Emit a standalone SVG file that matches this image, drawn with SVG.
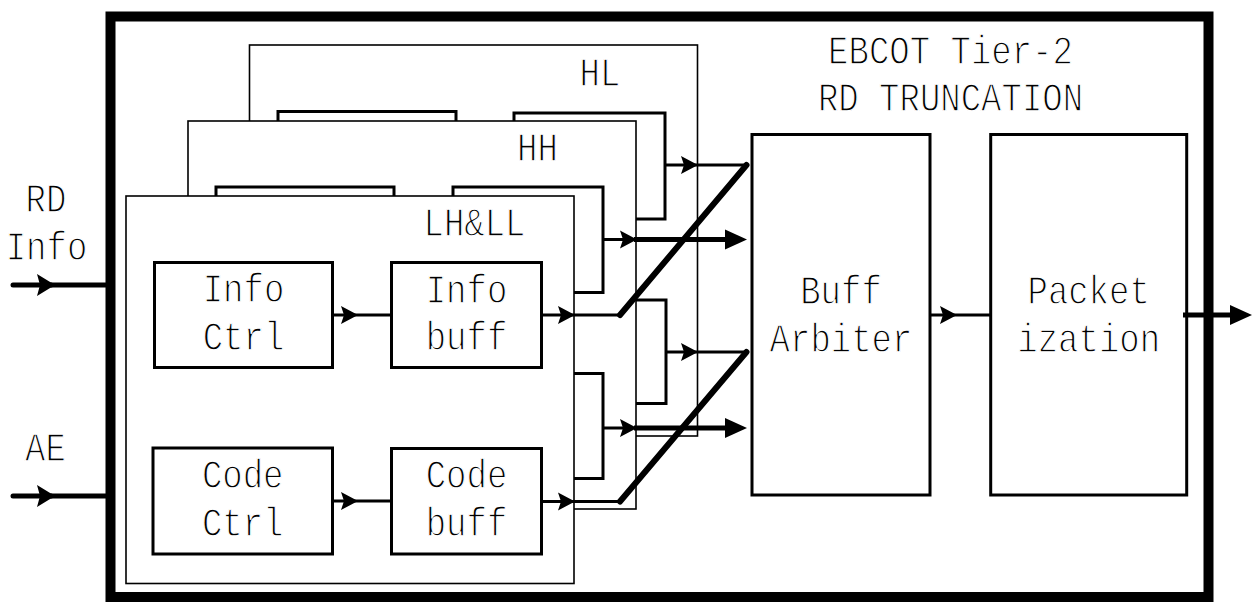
<svg xmlns="http://www.w3.org/2000/svg" width="1256" height="603" viewBox="0 0 1256 603">
<style>
text{font-family:"Liberation Mono","DejaVu Sans Mono",monospace;font-size:34px;fill:#000;stroke:#fff;stroke-width:1.1px;text-anchor:middle}
.layer{fill:#fff;stroke:#000;stroke-width:1.6}
.blk{fill:#fff;stroke:#000;stroke-width:3}
.big{fill:#fff;stroke:#000;stroke-width:3}
.ln{fill:none;stroke:#000;stroke-width:3}
.thk{fill:none;stroke:#000;stroke-width:5}
.diag{fill:none;stroke:#000;stroke-width:6;stroke-linecap:round}
.inp{fill:none;stroke:#000;stroke-width:5}
</style>
<defs>
<marker id="as" viewBox="-18 -10 20 20" refX="-4" refY="0" markerWidth="20" markerHeight="20" markerUnits="userSpaceOnUse" orient="auto" overflow="visible"><path d="M0,0 L-17,-9 L-14,0 L-17,9 Z" fill="#000"/></marker>
<marker id="ai" viewBox="-20 -12 22 24" refX="-4" refY="0" markerWidth="22" markerHeight="24" markerUnits="userSpaceOnUse" orient="auto" overflow="visible"><path d="M0,0 L-18,-11 L-15,0 L-18,11 Z" fill="#000"/></marker>
<marker id="ab" viewBox="-24 -11 26 22" refX="-8" refY="0" markerWidth="26" markerHeight="22" markerUnits="userSpaceOnUse" orient="auto" overflow="visible"><path d="M0,0 L-22,-10 L-22,10 Z" fill="#000"/></marker>
</defs>
<rect width="1256" height="603" fill="#fff"/>

<g id="outer">
<rect x="110.5" y="16.5" width="1098" height="580.5" fill="none" stroke="#000" stroke-width="10"/>
<text transform="matrix(1 0 0 1.17 950.5 64)">EBCOT Tier-2</text>
<text transform="matrix(1 0 0 1.17 950.5 110.7)">RD TRUNCATION</text>
</g>

<g id="labels-in">
<text transform="matrix(1 0 0 1.17 46 211.7)">RD</text>
<text transform="matrix(1 0 0 1.17 46.5 260)">Info</text>
<text transform="matrix(1 0 0 1.17 45.5 460.7)">AE</text>
</g>

<g id="layer-HL">
<rect class="layer" x="249.5" y="45" width="448" height="391"/>
<text transform="matrix(1 0 0 1.17 600 86)">HL</text>
<rect id="hl-info-ctrl" class="blk" x="278" y="111.5" width="178" height="105"/>
<rect id="hl-info-buff" class="blk" x="514" y="113" width="151" height="106"/>
<rect id="hl-code-buff" class="blk" x="514" y="300" width="152" height="103.5"/>
</g>

<g id="layer-HH">
<rect class="layer" x="188" y="121" width="448" height="388"/>
<text transform="matrix(1 0 0 1.17 537.5 161)">HH</text>
<rect id="hh-info-ctrl" class="blk" x="216" y="187" width="178" height="105"/>
<rect id="hh-info-buff" class="blk" x="453" y="187" width="150" height="105.5"/>
<rect id="hh-code-buff" class="blk" x="453" y="373.5" width="150" height="105"/>
</g>

<g id="layer-LHLL">
<rect class="layer" x="126" y="196" width="448" height="387.5"/>
<text transform="matrix(1 0 0 1.17 474.5 236)">LH&amp;LL</text>
<g id="info-ctrl">
<rect class="blk" x="154.5" y="262.5" width="178" height="105"/>
<text transform="matrix(1 0 0 1.17 243.5 302)">Info</text>
<text transform="matrix(1 0 0 1.17 243.5 350)">Ctrl</text>
</g>
<g id="info-buff">
<rect class="blk" x="391.5" y="262.5" width="150" height="105"/>
<text transform="matrix(1 0 0 1.17 466.5 302.5)">Info</text>
<text transform="matrix(1 0 0 1.17 466.5 350)">buff</text>
</g>
<g id="code-ctrl">
<rect class="blk" x="153" y="448" width="179.5" height="106"/>
<text transform="matrix(1 0 0 1.17 242.7 488)">Code</text>
<text transform="matrix(1 0 0 1.17 242.7 536)">Ctrl</text>
</g>
<g id="code-buff">
<rect class="blk" x="391.5" y="448.5" width="150" height="105.5"/>
<text transform="matrix(1 0 0 1.17 466.5 488)">Code</text>
<text transform="matrix(1 0 0 1.17 466.5 536)">buff</text>
</g>
</g>

<g id="buff-arbiter">
<rect class="big" x="752" y="134.5" width="178" height="360.5"/>
<text transform="matrix(1 0 0 1.17 841 303.7)">Buff</text>
<text transform="matrix(1 0 0 1.17 841 351.7)">Arbiter</text>
</g>

<g id="packetization">
<rect class="big" x="990.7" y="134.5" width="196" height="360.5"/>
<text transform="matrix(1 0 0 1.17 1088.7 303.7)">Packet</text>
<text transform="matrix(1 0 0 1.17 1088.7 351.7)">ization</text>
</g>

<g id="connectors">
<line class="inp" x1="13" y1="285" x2="51" y2="285" stroke-linecap="round" marker-end="url(#ai)"/>
<line class="inp" x1="51" y1="285" x2="106" y2="285"/>
<line class="inp" x1="13" y1="496" x2="51" y2="496" stroke-linecap="round" marker-end="url(#ai)"/>
<line class="inp" x1="51" y1="496" x2="106" y2="496"/>

<line class="ln" x1="332.5" y1="315" x2="354" y2="315" marker-end="url(#as)"/>
<line class="ln" x1="354" y1="315" x2="391.5" y2="315"/>
<line class="ln" x1="332.5" y1="501" x2="354" y2="501" marker-end="url(#as)"/>
<line class="ln" x1="354" y1="501" x2="391.5" y2="501"/>

<line class="ln" x1="541.5" y1="315" x2="571" y2="315" marker-end="url(#as)"/>
<line class="ln" x1="571" y1="315" x2="620" y2="315"/>
<line class="diag" x1="620" y1="315" x2="746.5" y2="165"/>
<line class="ln" x1="541.5" y1="501.5" x2="571" y2="501.5" marker-end="url(#as)"/>
<line class="ln" x1="571" y1="501.5" x2="620" y2="501.5"/>
<line class="diag" x1="620" y1="501.5" x2="746.5" y2="352"/>

<line class="ln" x1="603" y1="239.5" x2="633" y2="239.5" marker-end="url(#as)"/>
<line class="thk" x1="634" y1="239.5" x2="739" y2="239.5" marker-end="url(#ab)"/>
<line class="ln" x1="603" y1="428" x2="633" y2="428" marker-end="url(#as)"/>
<line class="thk" x1="634" y1="428" x2="739" y2="428" marker-end="url(#ab)"/>

<line class="ln" x1="665" y1="165" x2="694" y2="165" marker-end="url(#as)"/>
<line class="ln" x1="694" y1="165" x2="746.5" y2="165"/>
<line class="ln" x1="666" y1="352" x2="694" y2="352" marker-end="url(#as)"/>
<line class="ln" x1="694" y1="352" x2="746.5" y2="352"/>

<line class="ln" x1="930" y1="315" x2="953" y2="315" marker-end="url(#as)"/>
<line class="ln" x1="953" y1="315" x2="990.7" y2="315"/>

<line class="thk" x1="1183" y1="315" x2="1244" y2="315" marker-end="url(#ab)"/>
</g>
</svg>
